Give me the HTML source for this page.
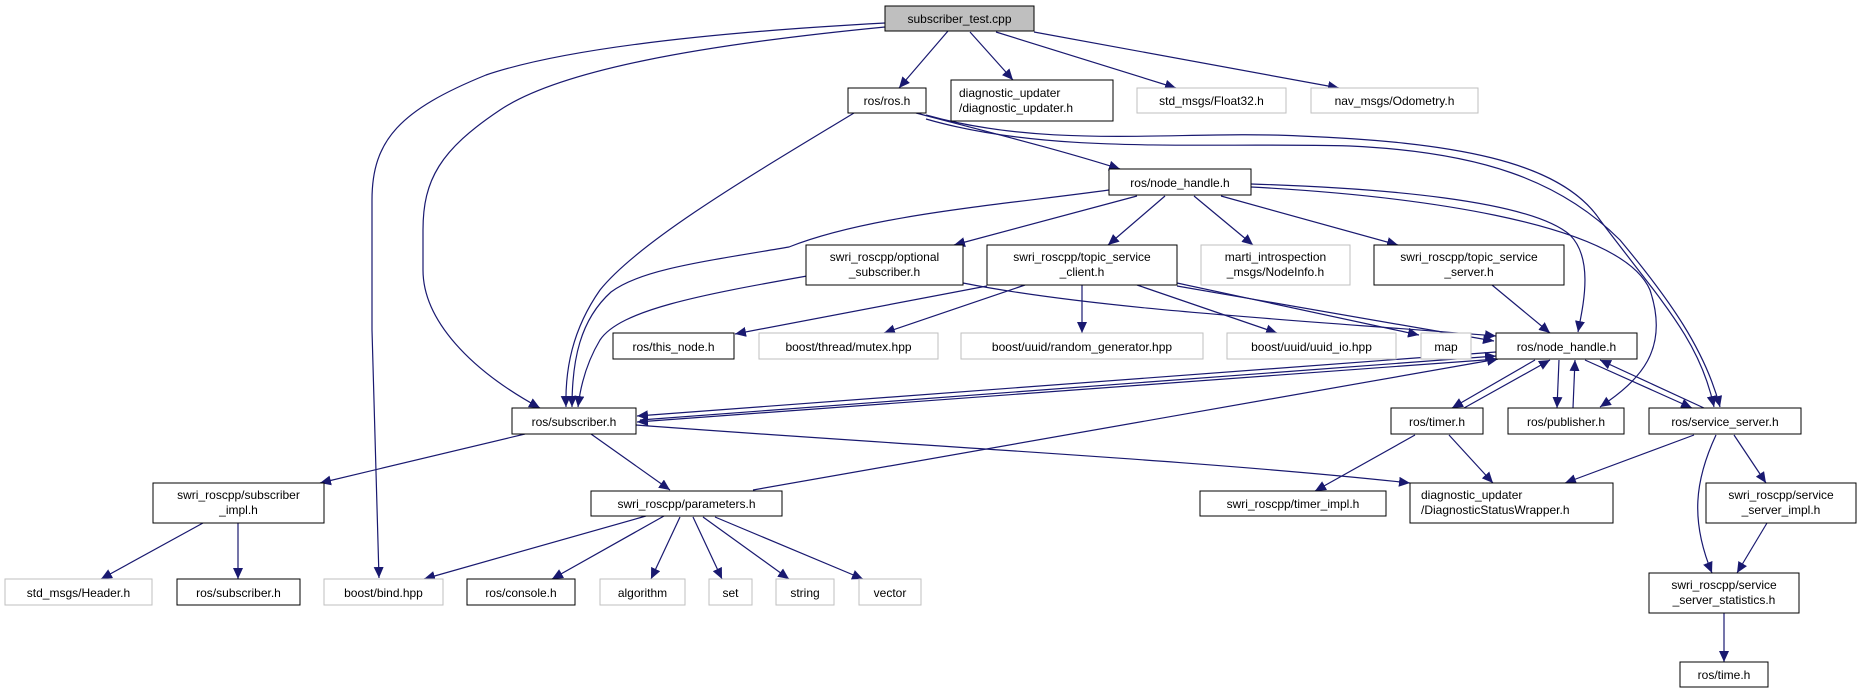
<!DOCTYPE html>
<html><head><meta charset="utf-8"><style>
html,body{margin:0;padding:0;background:#fff;}
svg{display:block;}
text{font-family:"Liberation Sans",sans-serif;font-size:12px;fill:#000;}
.n{fill:#fff;stroke:#000;stroke-width:1;}
.g{fill:#fff;stroke:#bfbfbf;stroke-width:1;}
.e{fill:none;stroke:#191970;stroke-width:1.2;}
</style></head><body>
<svg width="1862" height="693" viewBox="0 0 1862 693" xmlns="http://www.w3.org/2000/svg">
<defs><marker id="a" markerUnits="userSpaceOnUse" markerWidth="12" markerHeight="10" refX="11" refY="5" orient="auto"><path d="M0,0 L11,5 L0,10 z" fill="#191970"/></marker></defs>
<g marker-end="url(#a)">
<path class="e" d="M948,31 L899,88"/>
<path class="e" d="M970,32 L1013,80"/>
<path class="e" d="M996,32 L1176,88"/>
<path class="e" d="M1034,32 L1339,88"/>
<path class="e" d="M885,23 C700,33 560,50 486,75 C400,110 372,140 372,200 L372,330 L379,578"/>
<path class="e" d="M885,27 C700,45 560,70 500,110 C440,150 423,180 423,230 L423,270 C423,320 470,370 540,408"/>
<path class="e" d="M854,113 C760,170 640,240 600,290 C572,330 565,370 566,407"/>
<path class="e" d="M916,113 C1000,135 1060,150 1120,169"/>
<path class="e" d="M926,115 C1050,150 1180,130 1300,136 C1450,142 1560,160 1600,220 C1660,300 1700,340 1714,407"/>
<path class="e" d="M926,119 C1050,155 1200,142 1350,146 C1480,152 1560,180 1620,240 C1670,300 1705,350 1720,407"/>
<path class="e" d="M1251,184 C1380,188 1530,200 1570,235 C1595,260 1582,310 1578,332"/>
<path class="e" d="M1251,187 C1400,195 1620,220 1650,290 C1670,350 1640,380 1600,407"/>
<path class="e" d="M1109,190 C1000,205 870,215 789,247 C700,262 640,270 611,292 C580,320 572,360 572,407"/>
<path class="e" d="M1137,196 L954,245"/>
<path class="e" d="M1165,196 L1108,245"/>
<path class="e" d="M1194,196 L1253,245"/>
<path class="e" d="M1221,196 L1398,245"/>
<path class="e" d="M807,276 C700,295 620,310 600,340 C585,365 580,390 578,407"/>
<path class="e" d="M963,283 C1100,310 1300,320 1496,336"/>
<path class="e" d="M987,286 L735,334"/>
<path class="e" d="M1025,285 L884,333"/>
<path class="e" d="M1082,285 L1082,333"/>
<path class="e" d="M1137,285 L1277,333"/>
<path class="e" d="M1177,283 L1419,335"/>
<path class="e" d="M1177,286 L1494,341"/>
<path class="e" d="M1492,285 L1550,333"/>
<path class="e" d="M1496,352 L637,416"/>
<path class="e" d="M640,420 L1496,356"/>
<path class="e" d="M1498,359 L637,422"/>
<path class="e" d="M636,425 C900,445 1200,460 1410,483"/>
<path class="e" d="M753,490 L1498,359"/>
<path class="e" d="M525,434 L320,483"/>
<path class="e" d="M591,434 L670,490"/>
<path class="e" d="M203,523 L101,579"/>
<path class="e" d="M238,523 L238,579"/>
<path class="e" d="M646,516 L424,579"/>
<path class="e" d="M664,516 L552,579"/>
<path class="e" d="M680,517 L651,579"/>
<path class="e" d="M693,517 L722,579"/>
<path class="e" d="M703,517 L789,579"/>
<path class="e" d="M715,517 L863,579"/>
<path class="e" d="M1535,360 L1452,408"/>
<path class="e" d="M1464,408 L1550,360"/>
<path class="e" d="M1559,360 L1557,408"/>
<path class="e" d="M1573,408 L1575,360"/>
<path class="e" d="M1585,360 L1692,408"/>
<path class="e" d="M1704,408 L1600,360"/>
<path class="e" d="M1415,435 L1315,491"/>
<path class="e" d="M1449,435 L1493,483"/>
<path class="e" d="M1694,435 L1565,483"/>
<path class="e" d="M1734,435 L1766,483"/>
<path class="e" d="M1716,435 C1695,480 1690,520 1712,573"/>
<path class="e" d="M1767,523 L1737,573"/>
<path class="e" d="M1724,613 L1724,662"/>
</g>

<rect x="885" y="6" width="149" height="25" fill="#bfbfbf" stroke="#000"/><text x="959.5" y="23" text-anchor="middle">subscriber_test.cpp</text>
<rect class="n" x="848" y="88" width="78" height="25"/><text x="887" y="105" text-anchor="middle">ros/ros.h</text>
<rect class="n" x="951" y="80" width="162" height="41"/><text x="959" y="97">diagnostic_updater</text><text x="959" y="112">/diagnostic_updater.h</text>
<rect class="g" x="1137" y="88" width="149" height="25"/><text x="1211.5" y="105" text-anchor="middle">std_msgs/Float32.h</text>
<rect class="g" x="1311" y="88" width="167" height="25"/><text x="1394.5" y="105" text-anchor="middle">nav_msgs/Odometry.h</text>
<rect class="n" x="1109" y="169" width="142" height="26"/><text x="1180" y="187" text-anchor="middle">ros/node_handle.h</text>
<rect class="n" x="806" y="245" width="157" height="40"/><text x="884.5" y="261" text-anchor="middle">swri_roscpp/optional</text><text x="884.5" y="276" text-anchor="middle">_subscriber.h</text>
<rect class="n" x="987" y="245" width="190" height="40"/><text x="1082" y="261" text-anchor="middle">swri_roscpp/topic_service</text><text x="1082" y="276" text-anchor="middle">_client.h</text>
<rect class="g" x="1201" y="245" width="149" height="40"/><text x="1275.5" y="261" text-anchor="middle">marti_introspection</text><text x="1275.5" y="276" text-anchor="middle">_msgs/NodeInfo.h</text>
<rect class="n" x="1374" y="245" width="190" height="40"/><text x="1469" y="261" text-anchor="middle">swri_roscpp/topic_service</text><text x="1469" y="276" text-anchor="middle">_server.h</text>
<rect class="n" x="613" y="333" width="121" height="26"/><text x="673.5" y="351" text-anchor="middle">ros/this_node.h</text>
<rect class="g" x="759" y="333" width="179" height="26"/><text x="848.5" y="351" text-anchor="middle">boost/thread/mutex.hpp</text>
<rect class="g" x="961" y="333" width="242" height="26"/><text x="1082" y="351" text-anchor="middle">boost/uuid/random_generator.hpp</text>
<rect class="g" x="1227" y="333" width="169" height="26"/><text x="1311.5" y="351" text-anchor="middle">boost/uuid/uuid_io.hpp</text>
<rect class="g" x="1421" y="333" width="50" height="26"/><text x="1446" y="351" text-anchor="middle">map</text>
<rect class="n" x="1496" y="333" width="141" height="26"/><text x="1566.5" y="351" text-anchor="middle">ros/node_handle.h</text>
<rect class="n" x="512" y="408" width="124" height="26"/><text x="574" y="426" text-anchor="middle">ros/subscriber.h</text>
<rect class="n" x="1391" y="408" width="92" height="26"/><text x="1437" y="426" text-anchor="middle">ros/timer.h</text>
<rect class="n" x="1508" y="408" width="116" height="26"/><text x="1566" y="426" text-anchor="middle">ros/publisher.h</text>
<rect class="n" x="1649" y="408" width="152" height="26"/><text x="1725" y="426" text-anchor="middle">ros/service_server.h</text>
<rect class="n" x="153" y="483" width="171" height="40"/><text x="238.5" y="499" text-anchor="middle">swri_roscpp/subscriber</text><text x="238.5" y="514" text-anchor="middle">_impl.h</text>
<rect class="n" x="591" y="491" width="191" height="25"/><text x="686.5" y="508" text-anchor="middle">swri_roscpp/parameters.h</text>
<rect class="n" x="1200" y="491" width="186" height="25"/><text x="1293" y="508" text-anchor="middle">swri_roscpp/timer_impl.h</text>
<rect class="n" x="1410" y="483" width="203" height="40"/><text x="1421" y="499">diagnostic_updater</text><text x="1421" y="514">/DiagnosticStatusWrapper.h</text>
<rect class="n" x="1706" y="483" width="150" height="40"/><text x="1781" y="499" text-anchor="middle">swri_roscpp/service</text><text x="1781" y="514" text-anchor="middle">_server_impl.h</text>
<rect class="g" x="5" y="579" width="147" height="26"/><text x="78.5" y="597" text-anchor="middle">std_msgs/Header.h</text>
<rect class="n" x="177" y="579" width="123" height="26"/><text x="238.5" y="597" text-anchor="middle">ros/subscriber.h</text>
<rect class="g" x="324" y="579" width="119" height="26"/><text x="383.5" y="597" text-anchor="middle">boost/bind.hpp</text>
<rect class="n" x="467" y="579" width="108" height="26"/><text x="521" y="597" text-anchor="middle">ros/console.h</text>
<rect class="g" x="600" y="579" width="85" height="26"/><text x="642.5" y="597" text-anchor="middle">algorithm</text>
<rect class="g" x="709" y="579" width="43" height="26"/><text x="730.5" y="597" text-anchor="middle">set</text>
<rect class="g" x="776" y="579" width="58" height="26"/><text x="805" y="597" text-anchor="middle">string</text>
<rect class="g" x="859" y="579" width="62" height="26"/><text x="890" y="597" text-anchor="middle">vector</text>
<rect class="n" x="1649" y="573" width="150" height="40"/><text x="1724" y="589" text-anchor="middle">swri_roscpp/service</text><text x="1724" y="604" text-anchor="middle">_server_statistics.h</text>
<rect class="n" x="1680" y="662" width="88" height="25"/><text x="1724" y="679" text-anchor="middle">ros/time.h</text>
</svg>
</body></html>
